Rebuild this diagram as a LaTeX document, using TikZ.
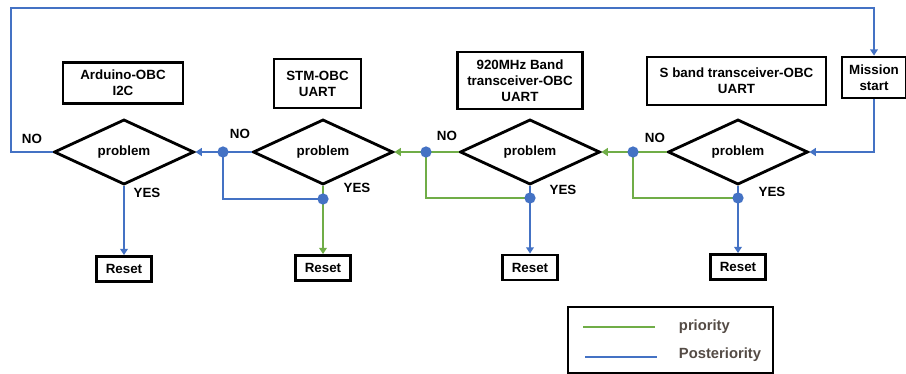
\documentclass[tikz,border=0pt]{standalone}
\usepackage{fontspec}
\setmainfont{Liberation Sans}
\usetikzlibrary{shapes.geometric,arrows.meta}
\definecolor{prioGreen}{HTML}{70AD47}
\definecolor{postBlue}{HTML}{4472C4}
\definecolor{legendText}{HTML}{544B45}
\begin{document}
\begin{tikzpicture}[x = 0.025cm, y = -0.025cm,
        every node/.style = {font = \bfseries\fontsize{9.5}{11.5}\selectfont},
        box/.style = {draw, line width = 2pt, align = center, inner sep = 0pt},
        decision/.style = {diamond, draw, line width = 2pt, inner sep = 0pt,
                minimum width = 3.5cm, minimum height = 1.45cm},
        prio/.style = {prioGreen, line width = 2pt},
        post/.style = {postBlue, line width = 2pt},
        tip/.style = {-{Triangle[length = 4.5pt, width = 5.5pt]}}]
                \useasboundingbox (0,0) rectangle (906,374);
                \node[box, minimum width = 3cm, minimum height = 1.025cm] (arduino) at (123,83) {Arduino-OBC\\I2C};
                \node[box, minimum width = 2.175cm, minimum height = 1.225cm] (stm) at (317.5,83.5) {STM-OBC\\UART};
                \node[box, minimum width = 3.125cm, minimum height = 1.425cm] (band920) at (520,80.5) {920MHz Band\\transceiver-OBC\\UART};
                \node[box, minimum width = 4.475cm, minimum height = 1.2cm] (sband) at (736.5,81) {S band transceiver-OBC\\UART};
                \node[box, minimum width = 1.6cm, minimum height = 1.025cm] (mission) at (874,77.5) {Mission\\start};
                \node[decision] (prob1) at (124,152) {problem};
                \node[decision] (prob2) at (323,152) {problem};
                \node[decision] (prob3) at (530,152) {problem};
                \node[decision] (prob4) at (738,152) {problem};
                \node[box, minimum width = 1.375cm, minimum height = 0.625cm] (reset1) at (124,269) {Reset};
                \node[box, minimum width = 1.375cm, minimum height = 0.625cm] (reset2) at (323,268) {Reset};
                \node[box, minimum width = 1.375cm, minimum height = 0.625cm] (reset3) at (530,267.5) {Reset};
                \node[box, minimum width = 1.375cm, minimum height = 0.625cm] (reset4) at (738,267) {Reset};
                \coordinate (loopL) at (11,152);
                \coordinate (loopT) at (11,8);
                \coordinate (join2) at (223,152);
                \coordinate (join3) at (426,152);
                \coordinate (join4) at (633,152);
                \coordinate (merge2) at (323,199);
                \coordinate (merge3) at (530,198);
                \coordinate (merge4) at (738,198);
                \draw[post, tip] (prob1.west) -- (loopL) -- (loopT) -| (mission.north);
                \draw[post, tip] (mission.south) |- (prob4.east);
                \draw[prio, tip] (prob4.west) -- (prob3.east);
                \draw[prio, tip] (prob3.west) -- (prob2.east);
                \draw[post, tip] (prob2.west) -- (prob1.east);
                \draw[post] (join2) |- (merge2);
                \draw[prio] (join3) |- (merge3);
                \draw[prio] (join4) |- (merge4);
                \draw[post, tip] (prob1.south) -- (reset1.north);
                \draw[prio, tip] (prob2.south) -- (reset2.north);
                \draw[post, tip] (prob3.south) -- (reset3.north);
                \draw[post, tip] (prob4.south) -- (reset4.north);
                \fill[postBlue] (join2) circle (4pt);
                \fill[postBlue] (join3) circle (4pt);
                \fill[postBlue] (join4) circle (4pt);
                \fill[postBlue] (merge2) circle (4pt);
                \fill[postBlue] (merge3) circle (4pt);
                \fill[postBlue] (merge4) circle (4pt);
                \node (no1) at (32,139) {NO};
                \node (yes1) at (147,193) {YES};
                \node (no2) at (240,134) {NO};
                \node (yes2) at (357,188) {YES};
                \node (no3) at (447,136) {NO};
                \node (yes3) at (563,190) {YES};
                \node (no4) at (655,138) {NO};
                \node (yes4) at (772,192) {YES};
                \draw[line width = 1.6pt] (568,307) rectangle (773,373);
                \coordinate (prioA) at (583,327);
                \coordinate (prioB) at (655,327);
                \coordinate (postA) at (585,357);
                \coordinate (postB) at (657,357);
                \draw[prio] (prioA) -- (prioB);
                \draw[post] (postA) -- (postB);
                \node[legendText, anchor = west, font = \bfseries\fontsize{10.5}{12}\selectfont] (prioText) at (674,327) {priority};
                \node[legendText, anchor = west, font = \bfseries\fontsize{10.5}{12}\selectfont] (postText) at (674,355) {Posteriority};
\end{tikzpicture}
\end{document}
